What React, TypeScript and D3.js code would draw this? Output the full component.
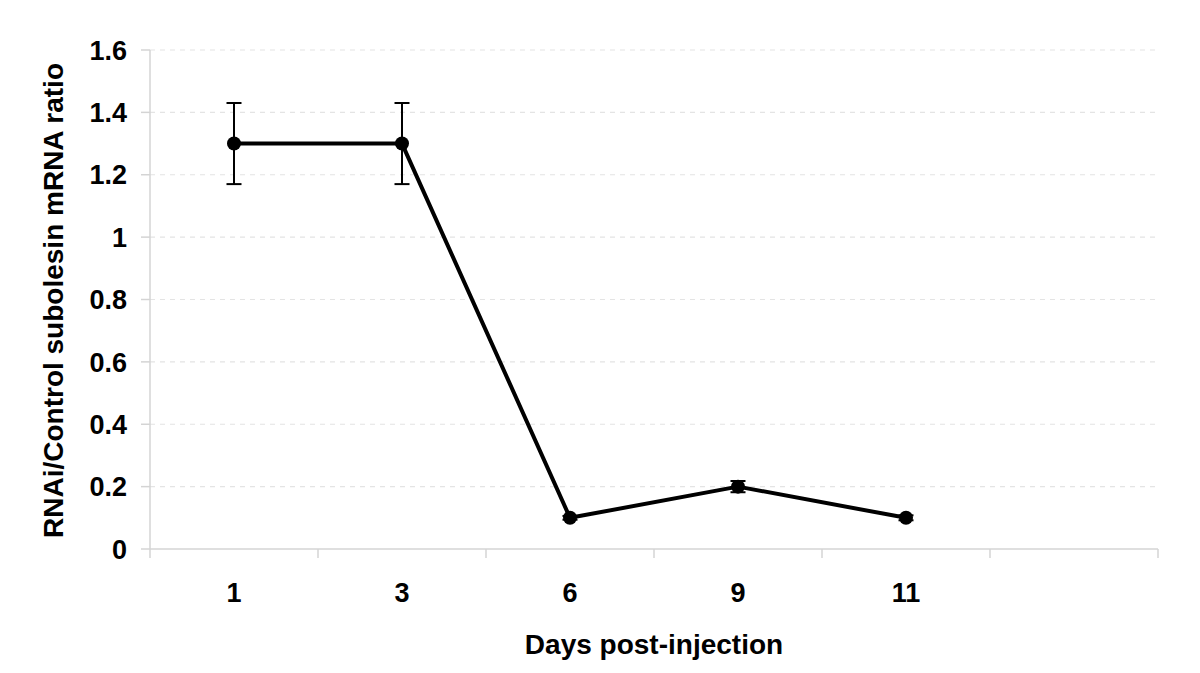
import React from "react";
import * as d3 from "d3";

const days = ["1", "3", "6", "9", "11"];
const ratio = [1.3, 1.3, 0.1, 0.2, 0.1];
const errors = [0.13, 0.13, 0.006, 0.018, 0.008];
const yTicks = [0, 0.2, 0.4, 0.6, 0.8, 1, 1.2, 1.4, 1.6];
const slotCount = 6;

const W = 1200;
const H = 673;
const left = 150;
const right = 1158;
const top = 50;
const bottom = 549;

export default function App() {
  const slots = d3.range(slotCount).map(String);
  const x = d3.scaleBand<string>().domain(slots).range([left, right]).padding(0);
  const y = d3.scaleLinear().domain([0, 1.6]).range([bottom, top]);
  const cx = (i: number) => (x(String(i)) as number) + x.bandwidth() / 2;
  const line = d3
    .line<number>()
    .x((_, i) => cx(i))
    .y((d) => y(d));
  const boundaries = d3.range(slotCount + 1).map((i) => left + i * x.bandwidth());
  const font = "'Liberation Sans', Arial, sans-serif";
  const axisColor = "#d4d4d4";

  return (
    <svg
      width={W}
      height={H}
      style={{ position: "absolute", left: 0, top: 0, background: "#fff" }}
    >
      <rect x={0} y={0} width={W} height={H} fill="#fff" />
      {/* gridlines */}
      {yTicks
        .filter((t) => t > 0)
        .map((t) => (
          <line
            key={"g" + t}
            x1={left}
            x2={right}
            y1={y(t)}
            y2={y(t)}
            stroke="#e4e4e4"
            strokeWidth={1.2}
            strokeDasharray="5,5"
          />
        ))}
      {/* y axis */}
      <line x1={left} x2={left} y1={top} y2={bottom} stroke={axisColor} strokeWidth={1.5} />
      {yTicks.map((t) => (
        <g key={"y" + t}>
          <line x1={left - 9} x2={left} y1={y(t)} y2={y(t)} stroke={axisColor} strokeWidth={1.5} />
          <text
            x={127}
            y={y(t)}
            dy="0.36em"
            textAnchor="end"
            fontFamily={font}
            fontWeight="bold"
            fontSize={27}
            fill="#000"
          >
            {String(t)}
          </text>
        </g>
      ))}
      {/* x axis */}
      <line x1={left} x2={right} y1={bottom} y2={bottom} stroke={axisColor} strokeWidth={1.5} />
      {boundaries.map((b, i) => (
        <line key={"xt" + i} x1={b} x2={b} y1={bottom} y2={bottom + 9} stroke={axisColor} strokeWidth={1.5} />
      ))}
      {days.map((d, i) => (
        <text
          key={"xl" + d}
          x={cx(i)}
          y={602}
          textAnchor="middle"
          fontFamily={font}
          fontWeight="bold"
          fontSize={27}
          fill="#000"
        >
          {d}
        </text>
      ))}
      {/* error bars */}
      {ratio.map((v, i) => (
        <g key={"e" + i} stroke="#000" strokeWidth={2}>
          <line x1={cx(i)} x2={cx(i)} y1={y(v + errors[i])} y2={y(v - errors[i])} />
          <line x1={cx(i) - 7.5} x2={cx(i) + 7.5} y1={y(v + errors[i])} y2={y(v + errors[i])} />
          <line x1={cx(i) - 7.5} x2={cx(i) + 7.5} y1={y(v - errors[i])} y2={y(v - errors[i])} />
        </g>
      ))}
      {/* line */}
      <path d={line(ratio) || ""} fill="none" stroke="#000" strokeWidth={4} strokeLinejoin="round" />
      {ratio.map((v, i) => (
        <circle key={"c" + i} cx={cx(i)} cy={y(v)} r={7} fill="#000" />
      ))}
      {/* titles */}
      <text
        x={654}
        y={654}
        textAnchor="middle"
        fontFamily={font}
        fontWeight="bold"
        fontSize={28}
        fill="#000"
      >
        Days post-injection
      </text>
      <text
        transform={`translate(63,${(top + bottom) / 2 + 1}) rotate(-90)`}
        textAnchor="middle"
        fontFamily={font}
        fontWeight="bold"
        fontSize={28}
        fill="#000"
      >
        RNAi/Control subolesin mRNA ratio
      </text>
    </svg>
  );
}
